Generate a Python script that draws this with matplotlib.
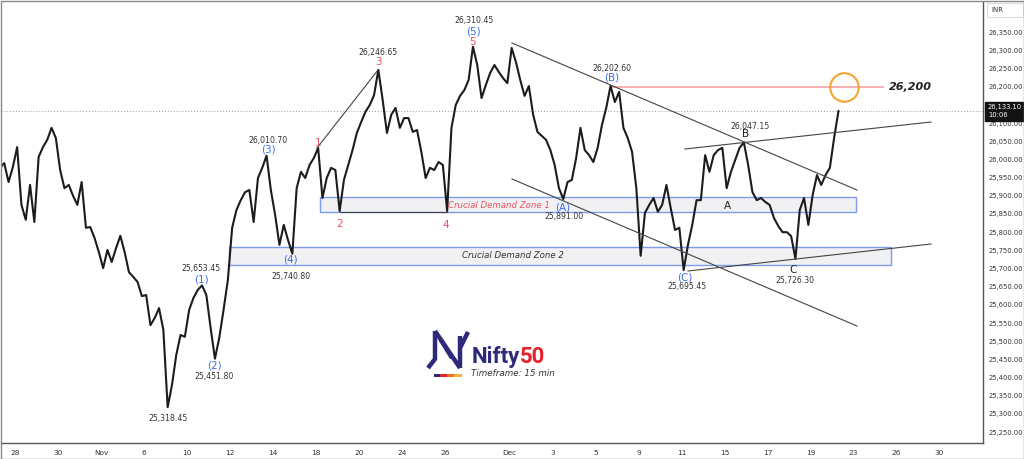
import matplotlib
matplotlib.use("Agg")
import matplotlib.pyplot as plt
from matplotlib.patches import Rectangle
from matplotlib.lines import Line2D
from matplotlib.transforms import Affine2D, blended_transform_factory

session_days = ["Oct 27", "Oct 28", "Oct 29", "Oct 30", "Oct 31", "Nov 3", "Nov 4", "Nov 6",
                "Nov 7", "Nov 10", "Nov 11", "Nov 12", "Nov 13", "Nov 14", "Nov 17", "Nov 18",
                "Nov 19", "Nov 20", "Nov 21", "Nov 24", "Nov 25", "Nov 26", "Nov 27", "Nov 28",
                "Dec 1", "Dec 2", "Dec 3", "Dec 4", "Dec 5", "Dec 8", "Dec 9", "Dec 10",
                "Dec 11", "Dec 12", "Dec 15", "Dec 16", "Dec 17", "Dec 18", "Dec 19", "Dec 22"]
session_prices = [
    [25966, 25977, 25990, 25938, 25979],
    [26034, 25875, 25834, 25930, 25828],
    [26007, 26034, 26054, 26087, 26059],
    [25971, 25921, 25930, 25900, 25875],
    [25938, 25812, 25814, 25784, 25745],
    [25701, 25751, 25718, 25756, 25790],
    [25745, 25690, 25677, 25663, 25624],
    [25627, 25544, 25564, 25591, 25531],
    [25318.45, 25379, 25462, 25517, 25512],
    [25586, 25619, 25641, 25653.45, 25627],
    [25536, 25451.80, 25509, 25586, 25668],
    [25812, 25861, 25888, 25910, 25916],
    [25828, 25949, 25977, 26010.70, 25916],
    [25847, 25765, 25820, 25778, 25740.80],
    [25921, 25966, 25949, 25985, 26004],
    [26032, 25894, 25949, 25977, 25971],
    [25858, 25944, 25985, 26026, 26073],
    [26103, 26131, 26150, 26177, 26246.65],
    [26164, 26073, 26123, 26142, 26087],
    [26114, 26114, 26076, 26081, 26021],
    [25949, 25977, 25971, 25993, 25985],
    [25858, 26087, 26150, 26175, 26191],
    [26219, 26310.45, 26260, 26169, 26205],
    [26238, 26260, 26241, 26224, 26210],
    [26307, 26268, 26219, 26175, 26202],
    [26123, 26076, 26065, 26054, 26026],
    [25985, 25921, 25891.00, 25938, 25944],
    [26004, 26087, 26026, 26012, 25993],
    [26032, 26095, 26142, 26202.60, 26158],
    [26186, 26087, 26059, 26021, 25921],
    [25735, 25853, 25875, 25894, 25856],
    [25875, 25930, 25866, 25806, 25812],
    [25695.45, 25765, 25820, 25888, 25888],
    [26012, 25966, 26012, 26026, 26032],
    [25921, 25966, 25999, 26032, 26047.15],
    [25985, 25910, 25888, 25894, 25883],
    [25875, 25839, 25817, 25800, 25800],
    [25789, 25726.30, 25861, 25894, 25820],
    [25902, 25957, 25930, 25957, 25977],
    [26060, 26133.10],
]
future_days = ["Dec 23", "Dec 24", "Dec 26", "Dec 29", "Dec 30"]

tick_days = ["Oct 28", "Oct 30", "Nov 3", "Nov 6", "Nov 10", "Nov 12", "Nov 14", "Nov 18",
             "Nov 20", "Nov 24", "Nov 26", "Dec 1", "Dec 3", "Dec 5", "Dec 9", "Dec 11",
             "Dec 15", "Dec 17", "Dec 19", "Dec 23", "Dec 26", "Dec 30"]
tick_labels = ["28", "30", "Nov", "6", "10", "12", "14", "18", "20", "24", "26", "Dec",
               "3", "5", "9", "11", "15", "17", "19", "23", "26", "30"]

price_ticks = list(range(25250, 26351, 50))
last_price = 26133.10
last_time = "10:06"
target_price = 26200
zone1 = (25855, 25897)
zone2 = (25710, 25758)

W, H = 1024, 459
fig = plt.figure(figsize=(W / 100, H / 100), dpi=100)
ax = fig.add_axes([1 / W, (H - 443) / H, 982 / W, 441 / H])


def px(x, y):
    # screen position of the reference picture -> (session index, price)
    return (x - 15) / 21.5, 26438.9 - 2.752 * y


all_days = session_days + future_days
xs, ys = [], []
for i, vals in enumerate(session_prices):
    for j, v in enumerate(vals):
        xs.append(i - 1 + (j + 0.5) / 5)
        ys.append(v)
ax.plot(xs, ys, color="#1c1c1c", lw=1.5, zorder=4)

ax.set_xlim(px(1, 0)[0], px(983, 0)[0])
ax.set_ylim(px(0, 443)[1], px(0, 2)[1])
ax.set_xticks([all_days.index(d) - 1 for d in tick_days])
ax.set_xticklabels(tick_labels)
ax.set_yticks(price_ticks)
ax.set_yticklabels([f"{p:,.2f}" for p in price_ticks])
ax.yaxis.tick_right()
ax.tick_params(axis="x", length=0, labelsize=5.3, labelcolor="#333", pad=5)
ax.tick_params(axis="y", length=0, labelsize=4.9, labelcolor="#333", pad=4)
for s in ["top", "left"]:
    ax.spines[s].set_visible(False)
for s in ["bottom", "right"]:
    ax.spines[s].set_color("#555")
    ax.spines[s].set_linewidth(1)

# demand zones
for (lo, hi), (xa, xb) in [(zone1, (320, 856)), (zone2, (229, 891))]:
    x0, x1 = px(xa, 0)[0], px(xb, 0)[0]
    ax.add_patch(Rectangle((x0, lo), x1 - x0, hi - lo, facecolor="#f1f1f3",
                           edgecolor="#7d9cf0", lw=1, zorder=2))
ax.text(*px(499, 205), "Crucial Demand Zone 1", color="#f0525f", fontsize=6.2,
        style="italic", ha="center", va="center", zorder=5)
ax.text(*px(513, 256), "Crucial Demand Zone 2", color="#333", fontsize=6.2,
        style="italic", ha="center", va="center", zorder=5)

# current price line
ax.axhline(last_price, color="#999", lw=0.7, ls=(0, (1, 2)), zorder=3)

# trend lines
for (xa, ya), (xb, yb) in [((317, 148), (378, 70)), ((512, 43), (857, 190)),
                           ((512, 179), (857, 326)), ((685, 149), (931, 122)),
                           ((688, 271), (931, 244)), ((340, 211.5), (447, 211.5))]:
    p0, p1 = px(xa, ya), px(xb, yb)
    ax.plot([p0[0], p1[0]], [p0[1], p1[1]], color="#444", lw=0.8, zorder=5)

# target line + circle
t0, t1 = px(612, 0)[0], px(883, 0)[0]
ax.plot([t0, t1], [target_price, target_price], color="#f5a3a3", lw=1.2, zorder=3)
ax.plot([px(844, 0)[0]], [target_price], marker="o", ms=20.5, mfc="none",
        mec="#f6a431", mew=1.5, zorder=6)
ax.text(px(889, 0)[0], target_price, "26,200", fontsize=8, style="italic",
        fontweight="bold", color="#222", va="center", ha="left")

# wave labels
grey = dict(fontsize=5.6, color="#333", ha="center", va="center", zorder=7)
blue = dict(fontsize=7.5, color="#3f6ff0", ha="center", va="center", zorder=7)
red = dict(fontsize=7.5, color="#f0525f", ha="center", va="center", zorder=7)
black = dict(fontsize=7.5, color="#222", ha="center", va="center", zorder=7)

for (x, y), s in [((268, 140), "26,010.70"), ((201, 268), "25,653.45"), ((214, 376), "25,451.80"),
                  ((168, 418), "25,318.45"), ((291, 276), "25,740.80"), ((378, 53), "26,246.65"),
                  ((474, 21), "26,310.45"), ((564, 217), "25,891.00"), ((612, 69), "26,202.60"),
                  ((750, 126), "26,047.15"), ((687, 286), "25,695.45"), ((795, 281), "25,726.30")]:
    ax.text(*px(x, y), s, **grey)
for (x, y), s in [((268, 150), "(3)"), ((201, 279), "(1)"), ((214, 366), "(2)"), ((290, 260), "(4)"),
                  ((473, 32), "(5)"), ((563, 207), "(A)"), ((612, 78), "(B)"), ((685, 277), "(C)")]:
    ax.text(*px(x, y), s, **blue)
for (x, y), s in [((318, 143), "1"), ((340, 224), "2"), ((378, 62), "3"), ((446, 225), "4"),
                  ((473, 42), "5")]:
    ax.text(*px(x, y), s, **red)
for (x, y), s in [((746, 134), "B"), ((727, 206), "A"), ((793, 270), "C")]:
    ax.text(*px(x, y), s, **black)

# last price tag
bt = blended_transform_factory(ax.transAxes, ax.transData)
ax.text(1.005, last_price, f"{last_price:,.2f}\n{last_time}", transform=bt, color="white",
        fontsize=4.9, va="center", ha="left", linespacing=1.3, clip_on=False, zorder=10,
        bbox=dict(boxstyle="square,pad=0.4", fc="#131313", ec="#131313"))

# figure-pixel overlays
pix = Affine2D().scale(1 / W, -1 / H).translate(0, 1) + fig.transFigure
fig.add_artist(Rectangle((987, 3), 36, 14, transform=pix, fc="white", ec="#ddd", lw=0.8))
fig.text(991 / W, 1 - 10 / H, "INR", fontsize=5, color="#333", va="center")
fig.add_artist(Rectangle((0.5, 0.5), W - 1, H - 1, transform=pix, fc="none", ec="#888", lw=1))

# logo
navy, lred = "#2e2a7a", "#e8202a"
for seg in [[(428, 368), (435, 359), (435, 331)], [(435, 331), (460, 368)],
            [(441, 340), (452, 358)], [(460, 368), (460, 348), (468, 332)], [(460, 336), (460, 348)]]:
    xsL, ysL = zip(*seg)
    fig.add_artist(Line2D(xsL, ysL, transform=pix, color=navy, lw=3.2, solid_capstyle="butt"))
for x0, x1, c in [(434, 440, navy), (440, 447, lred), (447, 454, "#f26b21"), (454, 462, "#fbb03b")]:
    fig.add_artist(Rectangle((x0, 374), x1 - x0, 3, transform=pix, fc=c, ec="none"))
t = fig.text(472 / W, 1 - 357 / H, "Nifty", fontsize=16, fontweight="bold", family="Roboto",
             color=navy, va="center", ha="left")
fig.canvas.draw()
bb = t.get_window_extent()
fig.text(bb.x1 / W, 1 - 357 / H, "50", fontsize=16, fontweight="bold", family="Roboto",
         color=lred, va="center", ha="left")
fig.text(471 / W, 1 - 374 / H, "Timeframe: 15 min", fontsize=6.3, style="italic",
         color="#333", va="center", ha="left")

fig.savefig("out.png", dpi=100, facecolor="white")
